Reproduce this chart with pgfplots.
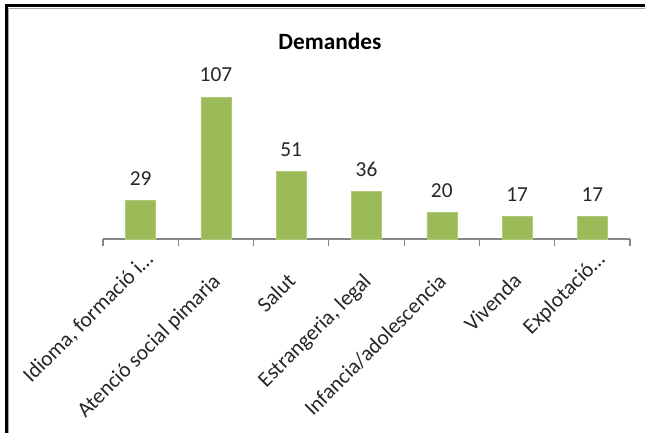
\documentclass[border=0pt]{standalone}
\usepackage{fontspec}
\setmainfont{Carlito}
\usepackage{pgfplots}
\pgfplotsset{compat=1.18}
\definecolor{barg}{HTML}{9BBB59}
\definecolor{axgray}{HTML}{868686}
\begin{document}
\begin{tikzpicture}
% picture box: 645x433 px at 0.75pt per px, plot area corner at px (103,239)
\useasboundingbox (-77.25pt,-145.5pt) rectangle (406.5pt,179.25pt);
\begin{axis}[
    at={(0,0)}, anchor=south west,
    scale only axis,
    width=395.25pt,
    height=119.4pt,
    ybar,
    bar width=22.5pt,
    xmin=-0.5, xmax=6.5,
    ymin=0, ymax=120,
    axis y line=none,
    axis x line*=bottom,
    axis line style={axgray, line width=0.8pt},
    xtick={0,1,2,3,4,5,6},
    % the two cut labels (with an ellipsis) sit a bit higher, set below
    xticklabels={{}, Atenció social pimaria, Salut, {Estrangeria, legal}, Infancia/adolescencia, Vivenda, {}},
    major tick length=0pt,
    minor xtick={-0.5,0.5,...,6.5},
    minor tick length=5.25pt,
    tick align=outside,
    minor tick style={axgray, line width=0.8pt},
    xticklabel style={xshift=-3.75pt, yshift=-24.5pt, rotate=45, anchor=north east, inner sep=0pt, font=\fontsize{16.2}{19}\selectfont, text=black!85},
    nodes near coords,
    /pgf/number format/assume math mode=true,
    every node near coord/.append style={font=\fontsize{16}{19}\selectfont, anchor=south, inner sep=0pt, yshift=11pt, text=black!85},
    clip=false,
]
\addplot[fill=barg, draw=barg!80!white] coordinates {
    (0, 29)
    (1, 107)
    (2, 51)
    (3, 36)
    (4, 20)
    (5, 17)
    (6, 17)
};
\node[xshift=2.25pt, yshift=-8pt, rotate=45, anchor=north east, inner sep=0pt, font=\fontsize{16.2}{19}\selectfont, text=black!85] at (axis cs:0,0) {Idioma, formació i…};
\node[xshift=2.25pt, yshift=-8pt, rotate=45, anchor=north east, inner sep=0pt, font=\fontsize{16.2}{19}\selectfont, text=black!85] at (axis cs:6,0) {Explotació…};
\end{axis}
% title
\node[font=\fontsize{17.5}{20}\selectfont\bfseries] at (170.25pt,148.5pt) {Demandes};
% chart frame (top and left edges)
\draw[black, line width=2.25pt] (-72.4pt,-145.5pt) -- (-72.4pt,175.1pt) -- (406.5pt,175.1pt);
\draw[gray!70, line width=0.75pt] (-70.5pt,-145.5pt) -- (-70.5pt,173.2pt) -- (406.5pt,173.2pt);
\end{tikzpicture}
\end{document}
